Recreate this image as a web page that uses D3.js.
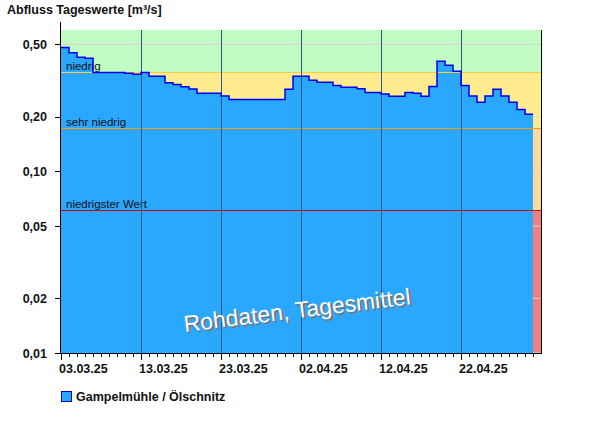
<!DOCTYPE html>
<html><head><meta charset="utf-8">
<script src="https://cdn.jsdelivr.net/npm/d3@7"></script>
<style>body{margin:0;background:#fff}svg{font-family:"Liberation Sans",Arial,sans-serif}</style>
</head><body><svg id="c" width="600" height="426"></svg>
<script>
const startDate = "2025-03-03";
const endDate = "2025-05-02";
const values = [0.48,0.45,0.425,0.42,0.35,0.35,0.35,0.35,0.347,0.342,0.35,0.334,0.334,0.307,0.301,0.292,0.284,0.269,0.269,0.269,0.260,0.249,0.249,0.249,0.249,0.249,0.249,0.249,0.283,0.334,0.334,0.317,0.309,0.309,0.297,0.290,0.290,0.285,0.272,0.272,0.267,0.259,0.259,0.272,0.269,0.259,0.293,0.404,0.384,0.356,0.297,0.260,0.240,0.260,0.283,0.260,0.240,0.219,0.2065];
const yTicks = [0.5,0.2,0.1,0.05,0.02,0.01];
const thresholds = [{v:0.352,label:"niedrig",color:"#ffcc44"},{v:0.173,label:"sehr niedrig",color:"#ff9900"},{v:0.061,label:"niedrigster Wert",color:"#cc0000"}];
const xTickLabels = ["03.03.25","13.03.25","23.03.25","02.04.25","12.04.25","22.04.25"];

const svg = d3.select("#c");
const L=61,R=541,T=30,B=353;
const parse=d3.utcParse("%Y-%m-%d");
const d0=parse(startDate), d1=parse(endDate);
const x=d3.scaleUtc().domain([d0,d1]).range([L,R]);
const y=d3.scaleLog().domain([0.01,0.6]).range([B,T]);
const fmt=v=>d3.format(".2f")(v).replace(".",",");
// bands
const bands=[[0.352,0.6,"#c3fcc3"],[0.173,0.352,"#ffeb8f"],[0.061,0.173,"#ffd89e"],[0.01,0.061,"#f08080"]];
bands.forEach(b=>svg.append("rect").attr("x",L).attr("width",R-L).attr("y",y(b[1])).attr("height",y(b[0])-y(b[1])).attr("fill",b[2]));
yTicks.forEach(t=>svg.append("line").attr("x1",L).attr("x2",R).attr("y1",y(t)).attr("y2",y(t)).attr("stroke","#e0d0d0").attr("stroke-width",1));
// area
const days=values.map((v,i)=>({d:d3.utcDay.offset(d0,i),v}));
const pts=[];days.forEach(p=>{pts.push([x(p.d),y(p.v)]);pts.push([x(d3.utcDay.offset(p.d,1)),y(p.v)]);});
svg.append("path").attr("d",d3.area().x(d=>d[0]).y0(B).y1(d=>d[1])(pts)).attr("fill","#2aa7ff");
// thresholds
thresholds.forEach(t=>{
 svg.append("line").attr("x1",L).attr("x2",R).attr("y1",Math.round(y(t.v))+0.5).attr("y2",Math.round(y(t.v))+0.5).attr("stroke",t.color).attr("stroke-width",1);
 svg.append("text").attr("x",66).attr("y",y(t.v)-2).attr("font-size",11.5).attr("fill","#111").text(t.label);
});
// vertical grid
const tickDates=xTickLabels.map(s=>d3.utcParse("%d.%m.%y")(s));
tickDates.slice(1).forEach(d=>svg.append("line").attr("x1",x(d)+0.5).attr("x2",x(d)+0.5).attr("y1",T).attr("y2",B).attr("stroke","#2a5a80").attr("stroke-width",1));
// line
svg.append("path").attr("d",d3.line()(pts)).attr("fill","none").attr("stroke","#0000ee").attr("stroke-width",1.5);
// watermark
const wm=svg.append("g").attr("transform","translate(298,318) rotate(-7)");
wm.append("text").attr("x",2).attr("y",2).attr("text-anchor","middle").attr("font-size",23).attr("fill","#777").text("Rohdaten, Tagesmittel");
wm.append("text").attr("text-anchor","middle").attr("font-size",23).attr("fill","#fff").text("Rohdaten, Tagesmittel");
// axes
svg.append("line").attr("x1",L-0.5).attr("x2",L-0.5).attr("y1",22).attr("y2",B+1).attr("stroke","#000");
svg.append("line").attr("x1",R+0.5).attr("x2",R+0.5).attr("y1",T).attr("y2",B+1).attr("stroke","#000");
svg.append("line").attr("x1",L-6).attr("x2",R+1).attr("y1",B+0.5).attr("y2",B+0.5).attr("stroke","#000");
yTicks.forEach(t=>{
 svg.append("line").attr("x1",L-6).attr("x2",L).attr("y1",Math.round(y(t))+0.5).attr("y2",Math.round(y(t))+0.5).attr("stroke","#000");
 svg.append("text").attr("x",L-14).attr("y",y(t)+4.5).attr("text-anchor","end").attr("font-size",12.5).attr("font-weight","bold").attr("fill","#111").text(fmt(t));
});
d3.utcDay.range(d0,d1).forEach((d,i)=>{
 const major=i%10===0;
 svg.append("line").attr("x1",x(d)+0.5).attr("x2",x(d)+0.5).attr("y1",B).attr("y2",B+(major?7:4)).attr("stroke","#000");
});
tickDates.forEach((d,i)=>svg.append("text").attr("x",x(d)-2).attr("y",B+20).attr("text-anchor","start").attr("font-size",12.5).attr("font-weight","bold").attr("fill","#111").text(xTickLabels[i]));
svg.append("text").attr("x",7).attr("y",14).attr("font-size",12.5).attr("font-weight","bold").attr("fill","#111").text("Abfluss Tageswerte [m³/s]");
// legend
svg.append("rect").attr("x",61.5).attr("y",391.5).attr("width",10).attr("height",10).attr("fill","#2aa7ff").attr("stroke","#0000ee");
svg.append("text").attr("x",76).attr("y",401).attr("font-size",12.5).attr("font-weight","bold").attr("fill","#111").text("Gampelmühle / Ölschnitz");
</script></body></html>
